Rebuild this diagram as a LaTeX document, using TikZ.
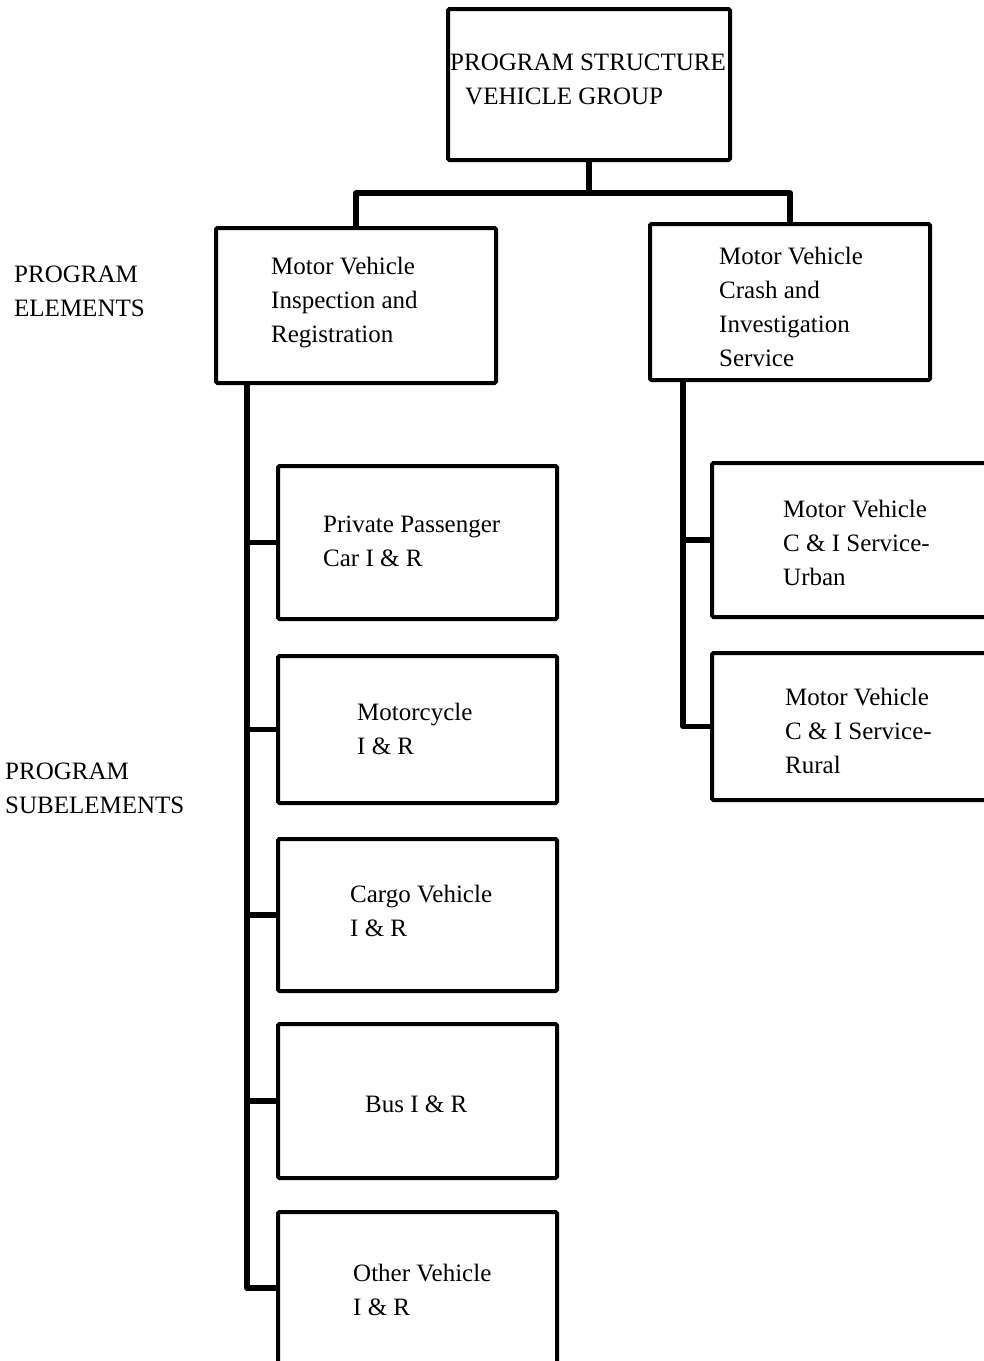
\documentclass[tikz,border=0pt]{standalone}
\usepackage{fontspec}
\setmainfont{Liberation Serif}
\begin{document}
\begin{tikzpicture}[x=1pt,y=-1pt,
  box/.style={draw=black, line width=4pt, rounded corners=1.5pt, rectangle, inner sep=0pt},
  txt/.style={anchor=west, inner sep=0pt, align=left, font=\fontsize{25}{34}\selectfont},
  conn/.style={draw=black, line width=5.5pt, line join=round}]
\useasboundingbox (0,0) rectangle (984,1361);
\clip (0,0) rectangle (984,1361);

% head of the structure
\node[box, minimum width=282pt, minimum height=151pt] (top) at (589,84.5) {};
\node[txt] (toptxt) at (450,79) {PROGRAM STRUCTURE\\\hspace*{15pt}VEHICLE GROUP};

% program elements
\node[box, minimum width=280pt, minimum height=155pt] (elemL) at (356,305.5) {};
\node[txt] (elemLtxt) at (271,303) {Motor Vehicle\\Inspection and\\Registration};
\node[box, minimum width=280pt, minimum height=156pt] (elemR) at (790,302) {};
\node[txt] (elemRtxt) at (719,307) {Motor Vehicle\\Crash and\\Investigation\\Service};

% side labels
\node[txt] (lblE) at (14,291) {PROGRAM\\ELEMENTS};
\node[txt] (lblS) at (5,788.5) {PROGRAM\\SUBELEMENTS};

% subelements of inspection and registration
\node[box, minimum width=279pt, minimum height=153pt] (s1) at (417.5,542.5) {};
\node[txt] (s1t) at (323,541) {Private Passenger\\Car I \& R};
\node[box, minimum width=279pt, minimum height=147pt] (s2) at (417.5,729.5) {};
\node[txt] (s2t) at (357,728.5) {Motorcycle\\I \& R};
\node[box, minimum width=279pt, minimum height=152pt] (s3) at (417.5,915) {};
\node[txt] (s3t) at (350,911) {Cargo Vehicle\\I \& R};
\node[box, minimum width=279pt, minimum height=154pt] (s4) at (417.5,1101) {};
\node[txt] (s4t) at (365,1104) {Bus I \& R};
\node[box, minimum width=279pt, minimum height=152pt] (s5) at (417.5,1288) {};
\node[txt] (s5t) at (353,1289.5) {Other Vehicle\\I \& R};

% subelements of crash and investigation
\node[box, minimum width=300pt, minimum height=154pt] (r1) at (862,540) {};
\node[txt] (r1t) at (783,543) {Motor Vehicle\\C \& I Service-\\Urban};
\node[box, minimum width=300pt, minimum height=147pt] (r2) at (862,726.5) {};
\node[txt] (r2t) at (785,730.5) {Motor Vehicle\\C \& I Service-\\Rural};

% connectors
\coordinate (bus) at (0,193);
\coordinate (trunkL) at (247,0);
\coordinate (trunkR) at (683,0);
\draw[conn] (top.south) -- (top.south |- bus);
\draw[conn] (elemL.north) -- (elemL.north |- bus) -- (elemR.north |- bus) -- (elemR.north);

\draw[conn] (elemL.south -| trunkL) |- (s5.west);
\foreach \s in {s1,s2,s3,s4}
  \draw[conn] (\s.west -| trunkL) -- (\s.west);

\draw[conn] (elemR.south -| trunkR) |- (r2.west);
\draw[conn] (r1.west -| trunkR) -- (r1.west);
\end{tikzpicture}
\end{document}
